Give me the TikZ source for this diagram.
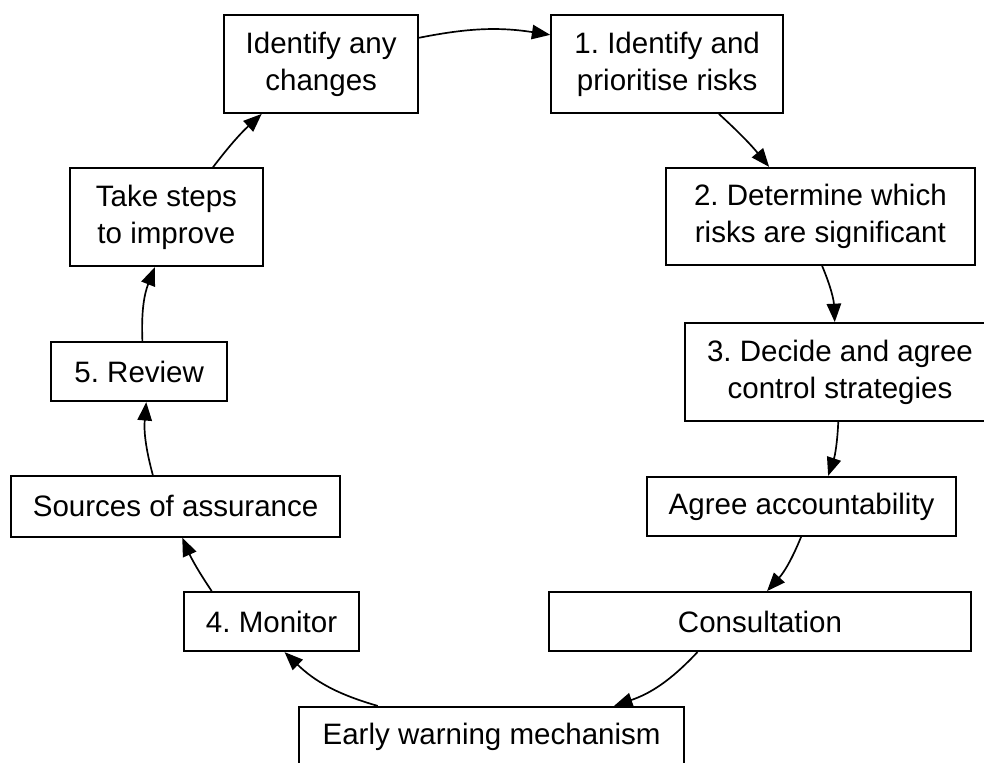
\documentclass[tikz,border=0pt]{standalone}
\usepackage{fontspec}
\setmainfont{Liberation Sans}
\usetikzlibrary{arrows.meta}
\frenchspacing

\begin{document}
\begin{tikzpicture}[
    box/.style={draw, line width=1.3pt, rectangle, align=center, inner sep=0pt, font=\fontsize{21}{26.3}\selectfont},
    flow/.style={-{Triangle[length=4.6mm, width=3.6mm]}, line width=1.2pt}
]
    \useasboundingbox (0,0) rectangle (24.6,-19.05);

    % Box for Identify any changes
    \node[box, minimum width=4.85cm, minimum height=2.45cm] (Changes) at (8.03,-1.6) {Identify any\\changes};

    % Box for step 1
    \node[box, minimum width=5.8cm, minimum height=2.45cm] (Identify) at (16.68,-1.6) {1. Identify and\\prioritise risks};

    % Box for step 2
    \node[box, minimum width=7.72cm, minimum height=2.43cm] (Significant) at (20.51,-5.41) {2. Determine which\\risks are significant};

    % Box for step 3
    \node[box, minimum width=7.75cm, minimum height=2.45cm] (Strategies) at (21.0,-9.3) {3. Decide and agree\\control strategies};

    % Box for Agree accountability
    \node[box, minimum width=7.72cm, minimum height=1.48cm] (Accountability) at (20.04,-12.66) {Agree accountability};

    % Box for Consultation
    \node[box, minimum width=10.55cm, minimum height=1.48cm] (Consultation) at (19.0,-15.54) {Consultation};

    % Box for Early warning mechanism
    \node[box, minimum width=9.62cm, minimum height=1.48cm] (EarlyWarning) at (12.29,-18.41) {Early warning mechanism};

    % Box for step 4
    \node[box, minimum width=4.38cm, minimum height=1.48cm] (Monitor) at (6.79,-15.54) {4. Monitor};

    % Box for Sources of assurance
    \node[box, minimum width=8.22cm, minimum height=1.52cm] (Assurance) at (4.39,-12.66) {Sources of assurance};

    % Box for step 5
    \node[box, minimum width=4.4cm, minimum height=1.48cm] (Review) at (3.48,-9.29) {5. Review};

    % Box for Take steps to improve
    \node[box, minimum width=4.83cm, minimum height=2.45cm] (Improve) at (4.16,-5.43) {Take steps\\to improve};

    % Arrows
    \path [flow] (Changes.15) edge[bend left=10] (Identify.166);
    \path [flow] (Identify.-44) edge[bend left=4] (Significant.136);
    \path [flow] (Significant.-88) edge[bend left=10] (Strategies.96);
    \path [flow] (Strategies.-92) edge[bend left=8] (Accountability.49);
    \path [flow] (Accountability.-91) edge[bend left=10] (Consultation.77);
    \path [flow] (Consultation.-154) edge[bend left=14] (EarlyWarning.14);
    \path [flow] (EarlyWarning.165) edge[bend left=14] (Monitor.-67);
    \path [flow] (Monitor.153) edge[bend left=5] (Assurance.-78);
    \path [flow] (Assurance.126) edge[bend left=10] (Review.-77);
    \path [flow] (Review.84) edge[bend left=12] (Improve.-103);
    \path [flow] (Improve.47) edge[bend left=5] (Changes.-140);
\end{tikzpicture}
\end{document}
